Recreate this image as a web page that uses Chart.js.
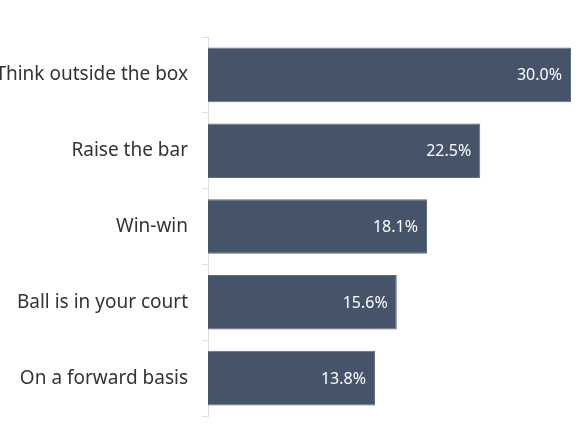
<!DOCTYPE html>
<html>
<head>
<meta charset="utf-8">
<script src="https://cdn.jsdelivr.net/npm/chart.js@4/dist/chart.umd.min.js"></script>
<style>
  html, body { margin: 0; padding: 0; background: #fff; }
  canvas { display: block; }
</style>
</head>
<body>
<canvas id="chart" width="580" height="435"></canvas>
<script>
// phrases and their share
const categories = ['Think outside the box', 'Raise the bar', 'Win-win', 'Ball is in your court', 'On a forward basis'];
const shares = [30.0, 22.5, 18.1, 15.6, 13.8];

// white value label inside the end of each bar
const valueLabels = {
  id: 'valueLabels',
  afterDatasetsDraw(chart) {
    const ctx = chart.ctx;
    const meta = chart.getDatasetMeta(0);
    ctx.save();
    ctx.fillStyle = '#ffffff';
    ctx.font = '16px "Noto Sans"';
    ctx.textAlign = 'right';
    ctx.textBaseline = 'middle';
    meta.data.forEach((bar, i) => {
      ctx.fillText(shares[i].toFixed(1) + '%', bar.x - 9, bar.y + 1);
    });
    ctx.restore();
  }
};

new Chart(document.getElementById('chart'), {
  type: 'bar',
  data: {
    labels: categories,
    datasets: [{
      data: shares,
      backgroundColor: '#46546a',
      borderColor: '#5d6a7e',
      borderWidth: 1,
      barPercentage: 0.72,
      categoryPercentage: 1
    }]
  },
  options: {
    indexAxis: 'y',
    responsive: false,
    animation: false,
    layout: { padding: { top: 37, bottom: 19, right: 9, left: 0 } },
    plugins: { legend: { display: false }, tooltip: { enabled: false } },
    scales: {
      x: { display: false, min: 0, max: 30 },
      y: {
        afterFit(scale) {
          scale.width = 208;
          scale.paddingTop = 0;
          scale.paddingBottom = 0;
        },
        border: { color: '#dddddd', width: 1 },
        grid: { drawOnChartArea: false, drawTicks: true, tickLength: 6, color: '#dddddd', offset: true },
        ticks: { color: '#333333', font: { family: 'Noto Sans', size: 19 }, padding: 14 }
      }
    }
  },
  plugins: [valueLabels]
});
</script>
</body>
</html>
